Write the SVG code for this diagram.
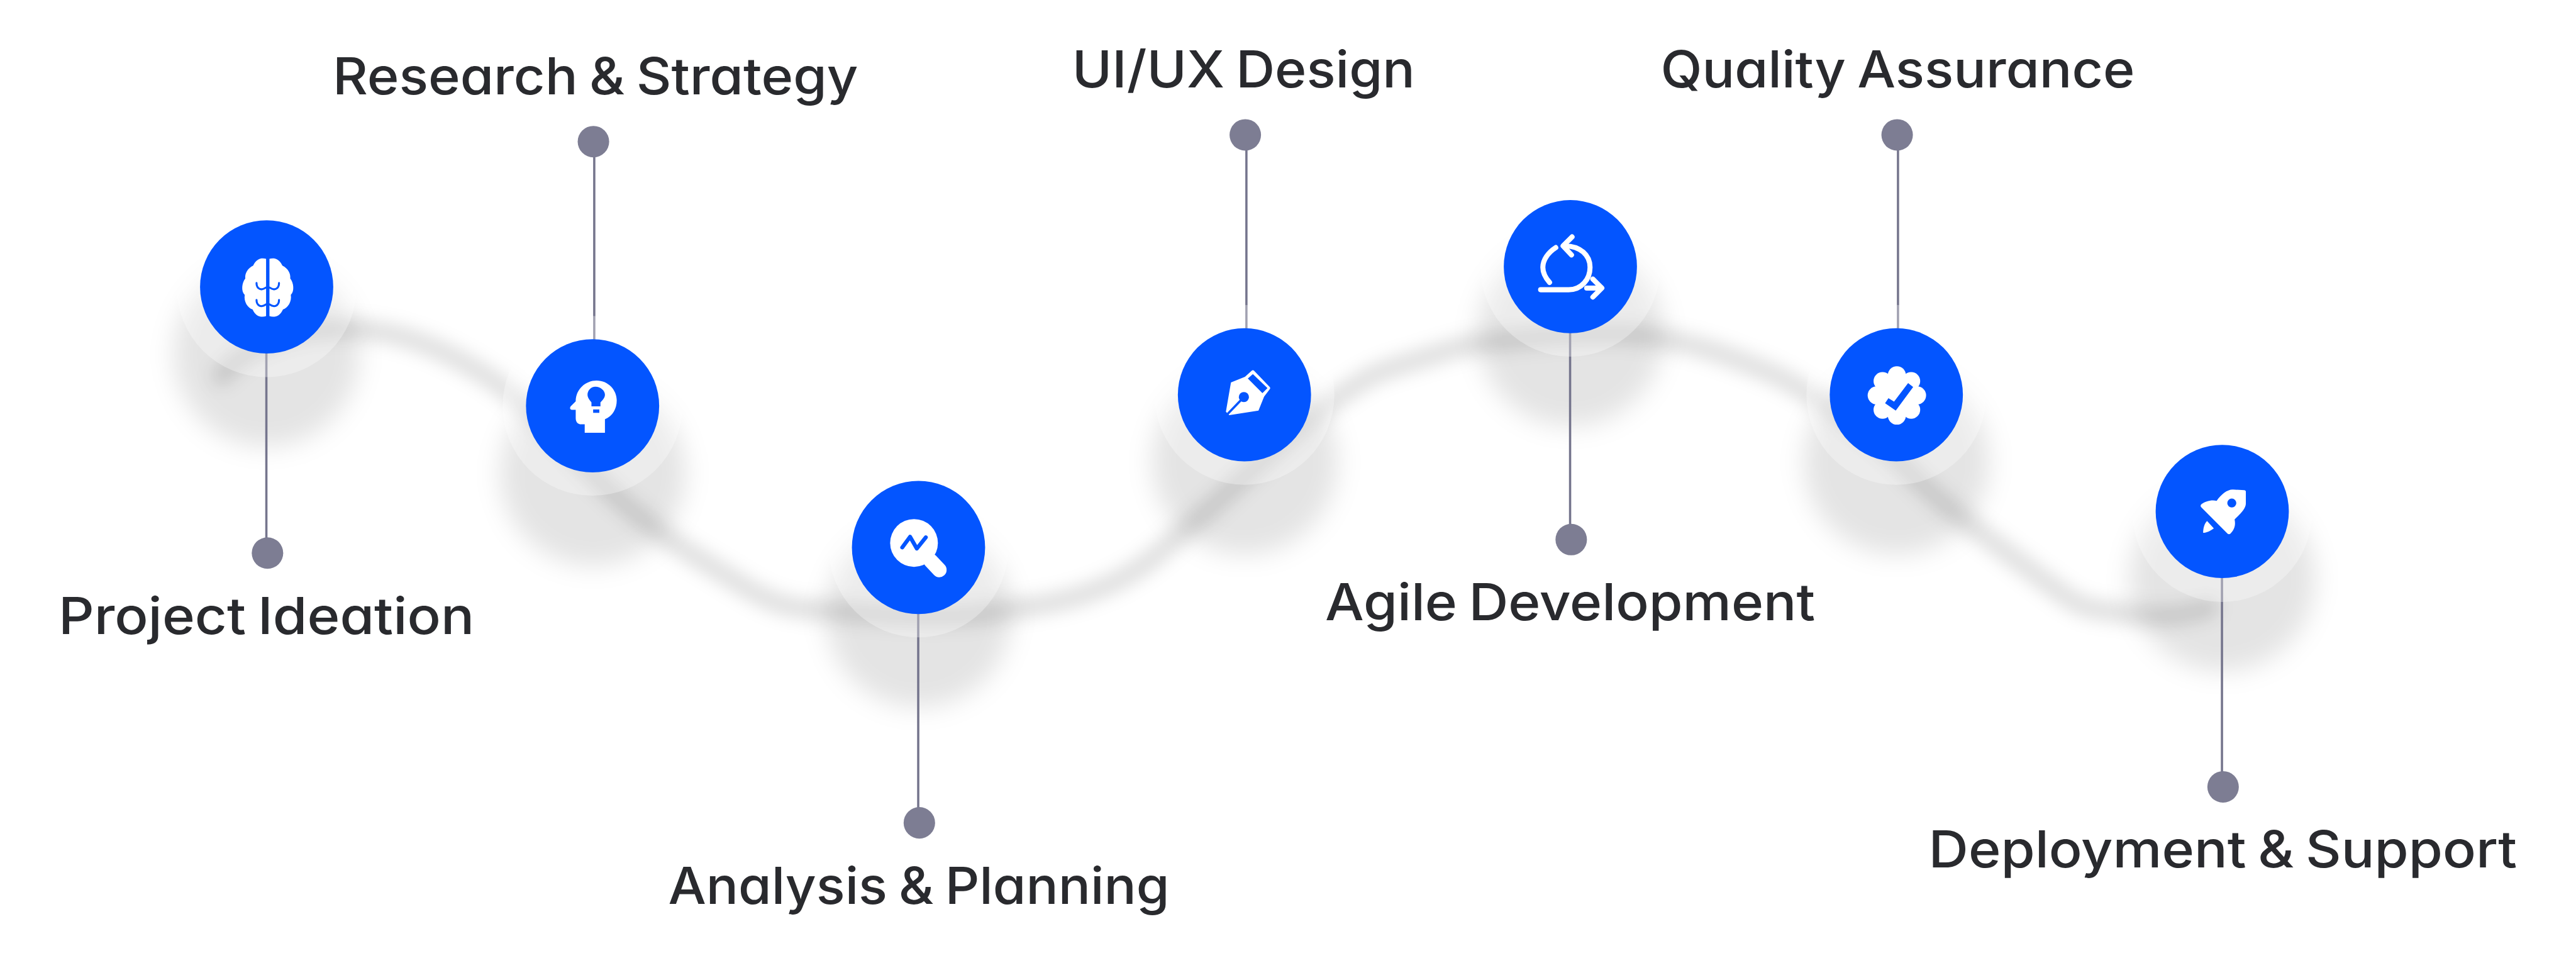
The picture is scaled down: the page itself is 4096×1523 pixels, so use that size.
<svg xmlns="http://www.w3.org/2000/svg" width="4096" height="1523" viewBox="0 0 4096 1523">
<style>
.label{font-family:"Inter","Liberation Sans",sans-serif;font-size:91px;font-weight:530;fill:#292a2e;font-feature-settings:"cv11" 1;word-spacing:-5px}
.disc{fill:#0355ff}
.halo{fill:#fff;fill-opacity:.32}
.dot{fill:#7d7d93}
.blob{fill:#000;fill-opacity:.105}
.ic{fill:#fff}
.bl{fill:#0355ff}
.bs{fill:none;stroke:#0355ff;stroke-linecap:round}
.ws{fill:none;stroke:#fff;stroke-width:9;stroke-linecap:round;stroke-linejoin:round}
#connectors line{stroke:#75758d;stroke-width:4}
</style>
<defs>
<filter id="b1" x="-40%" y="-40%" width="180%" height="180%"><feGaussianBlur stdDeviation="22"/></filter>
<filter id="b2" filterUnits="userSpaceOnUse" x="250" y="450" width="3900" height="800"><feGaussianBlur stdDeviation="14"/></filter>
<g id="brain-half">
<path class="ic" d="M3 -50C9 -52 20 -52 26 -38C36 -33 41 -24 40 -15C46 -8 48 8 41 14C43 26 36 37 27 40C22 52 12 55 3 52Z"/>
<path class="bs" stroke-width="3.500" d="M20 -7C20 2 14 5 10 4C7 3.500 5 2 3 1M20 23C20 32 14 35 10 34C7 33.500 5 32 3 31"/>
</g>
</defs>
<rect width="4096" height="1523" fill="#fff"/>
<g transform="scale(.89354)">
<g id="shadows">
<path d="M395 668C445 610 530 583 620 585S790 620 874 675S1030 830 1121 905S1240 990 1315 1038S1420 1082 1496 1088S1690 1103 1771 1089S1890 1075 1967 1043S2080 965 2127 927S2300 765 2368 716S2450 662 2514 643S2600 612 2664 607S2850 585 2938 599S3080 635 3142 660S3330 770 3391 833S3540 960 3624 1023S3700 1080 3771 1090S3880 1097 3930 1082" fill="none" stroke="#000" stroke-opacity=".115" stroke-width="38" stroke-linecap="round" filter="url(#b2)"/>
<circle class="blob" cx="474" cy="630" r="165" filter="url(#b1)"/>
<circle class="blob" cx="1055" cy="842" r="165" filter="url(#b1)"/>
<circle class="blob" cx="1635" cy="1094" r="165" filter="url(#b1)"/>
<circle class="blob" cx="2215" cy="822" r="165" filter="url(#b1)"/>
<circle class="blob" cx="2795" cy="594" r="165" filter="url(#b1)"/>
<circle class="blob" cx="3375" cy="822" r="165" filter="url(#b1)"/>
<circle class="blob" cx="3955" cy="1030" r="165" filter="url(#b1)"/>
</g>
<g id="connectors">
<line x1="474" y1="510" x2="474" y2="984"/>
<line x1="1057.500" y1="252" x2="1057.500" y2="722"/>
<line x1="1634" y1="974" x2="1634" y2="1464"/>
<line x1="2218" y1="240" x2="2218" y2="702"/>
<line x1="2794" y1="474" x2="2794" y2="960"/>
<line x1="3377.500" y1="240" x2="3377.500" y2="702"/>
<line x1="3954" y1="910" x2="3954" y2="1400"/>
</g>
<g id="node-1">
<circle class="halo" cx="474.500" cy="511" r="160"/>
<circle class="disc" cx="474.500" cy="510.500" r="118.500"/>
<g transform="translate(476.500 510.500)"><use href="#brain-half"/><use href="#brain-half" transform="scale(-1 1)"/></g>
<circle class="dot" cx="476" cy="984" r="28"/>
<text class="label" x="104" y="1127.700" textLength="740" lengthAdjust="spacingAndGlyphs">Project Ideation</text>
</g>
<g id="node-2">
<circle class="halo" cx="1054.500" cy="722" r="160"/>
<circle class="disc" cx="1054.500" cy="722" r="118.500"/>
<g transform="translate(1054.500 722)">
<path class="ic" d="M-30 -8C-30 -30 -12 -45 7 -45C28 -45 43 -28 43 -10C43 5 36 18 22 24V48H-14V33H-20C-27 33 -30 28 -30 22V7H-37C-40 7 -41 4 -39 1L-30 -8Z"/>
<path class="bl" d="M5 -34C-3 -34 -9 -27 -9 -20C-9 -15 -6 -11 -2 -6V1H14V-6C19 -11 22 -15 22 -20C22 -27 14 -34 5 -34Z"/>
<rect class="bl" x="1" y="6.500" width="11" height="6"/>
</g>
<circle class="dot" cx="1056" cy="252" r="28"/>
<text class="label" x="592" y="167.700" textLength="935" lengthAdjust="spacingAndGlyphs">Research &amp; Strategy</text>
</g>
<g id="node-3">
<circle class="halo" cx="1634.500" cy="974" r="160"/>
<circle class="disc" cx="1634.500" cy="974" r="118.500"/>
<g transform="translate(1634.500 974)">
<circle class="ic" cx="-8" cy="-8" r="42.500"/>
<path fill="none" stroke="#fff" stroke-width="26" stroke-linecap="round" d="M22 24L37 40"/>
<path class="bs" stroke-width="7" stroke-linejoin="round" d="M-29 0L-15 -19L-3 2L13 -18"/>
</g>
<circle class="dot" cx="1636" cy="1464" r="28"/>
<text class="label" x="1189" y="1607.700" textLength="892" lengthAdjust="spacingAndGlyphs">Analysis &amp; Planning</text>
</g>
<g id="node-4">
<circle class="halo" cx="2214.500" cy="702.500" r="160"/>
<circle class="disc" cx="2214.500" cy="702.500" r="118.500"/>
<g transform="translate(2214.500 702.500)">
<path class="ic" d="M1 -32L13 -43Q15 -45 17 -43L45 -14Q47 -12 45 -10L35 3L25 28L-27 36L-33 30L-24 -22Z"/>
<path class="bl" d="M15 -37L41 -12L32 -3L6 -29Z"/>
<circle class="bl" cx="-1" cy="4" r="9"/>
<path class="bs" stroke-width="4" d="M-1 4L-29 33"/>
</g>
<circle class="dot" cx="2216" cy="240" r="28"/>
<text class="label" x="1908" y="155.700" textLength="610" lengthAdjust="spacingAndGlyphs">UI/UX Design</text>
</g>
<g id="node-5">
<circle class="halo" cx="2794.500" cy="474.500" r="160"/>
<circle class="disc" cx="2794.500" cy="474.500" r="118.500"/>
<g transform="translate(2794.500 474.500)">
<path class="ws" d="M-53 41H-3C20 41 35 22 35 1C35 -20 18 -37 -10 -37M3 -53L-13 -37L2 -21M-26 -34C-40 -25 -49 -12 -49 1C-49 10 -44 20 -37 28M29 38H55M40 22L56 38L40 54"/>
</g>
<circle class="dot" cx="2796" cy="960" r="28"/>
<text class="label" x="2358" y="1103.700" textLength="872" lengthAdjust="spacingAndGlyphs">Agile Development</text>
</g>
<g id="node-6">
<circle class="halo" cx="3374.500" cy="702.500" r="160"/>
<circle class="disc" cx="3374.500" cy="702.500" r="118.500"/>
<g transform="translate(3374.500 702.500)">
<g class="ic"><circle cx="1" cy="1" r="40"/><circle cx="1" cy="-35" r="16"/><circle cx="1" cy="37" r="16"/><circle cx="-35" cy="1" r="16"/><circle cx="37" cy="1" r="16"/><circle cx="-24.500" cy="-24.500" r="16"/><circle cx="26.500" cy="-24.500" r="16"/><circle cx="-24.500" cy="26.500" r="16"/><circle cx="26.500" cy="26.500" r="16"/></g>
<path class="bl" d="M21 -21L30 -14L-1 28L-20 15L-14 6L-4 12Z"/>
</g>
<circle class="dot" cx="3376" cy="240" r="28"/>
<text class="label" x="2955" y="155.700" textLength="844" lengthAdjust="spacingAndGlyphs">Quality Assurance</text>
</g>
<g id="node-7">
<circle class="halo" cx="3954.500" cy="911" r="160"/>
<circle class="disc" cx="3954.500" cy="910" r="118.500"/>
<g transform="translate(3954.500 910)">
<path class="ic" d="M42 -35Q42 -38 39 -38L19 -39C8 -39 -2 -30 -10 -19C-20 -21 -30 -18 -37 -13Q-40 -10 -37 -7L9 39Q12 42 15 39C22 32 24 24 22 14C34 3 42 -6 42 -14Z"/>
<circle class="bl" cx="17" cy="-15" r="8"/>
<path class="ic" d="M-27 17L-15 30C-20 34 -28 38 -34 38C-34 30 -32 22 -27 17Z"/>
</g>
<circle class="dot" cx="3956" cy="1400" r="28"/>
<text class="label" x="3432" y="1543.700" textLength="1047" lengthAdjust="spacingAndGlyphs">Deployment &amp; Support</text>
</g>
</g>
</svg>
